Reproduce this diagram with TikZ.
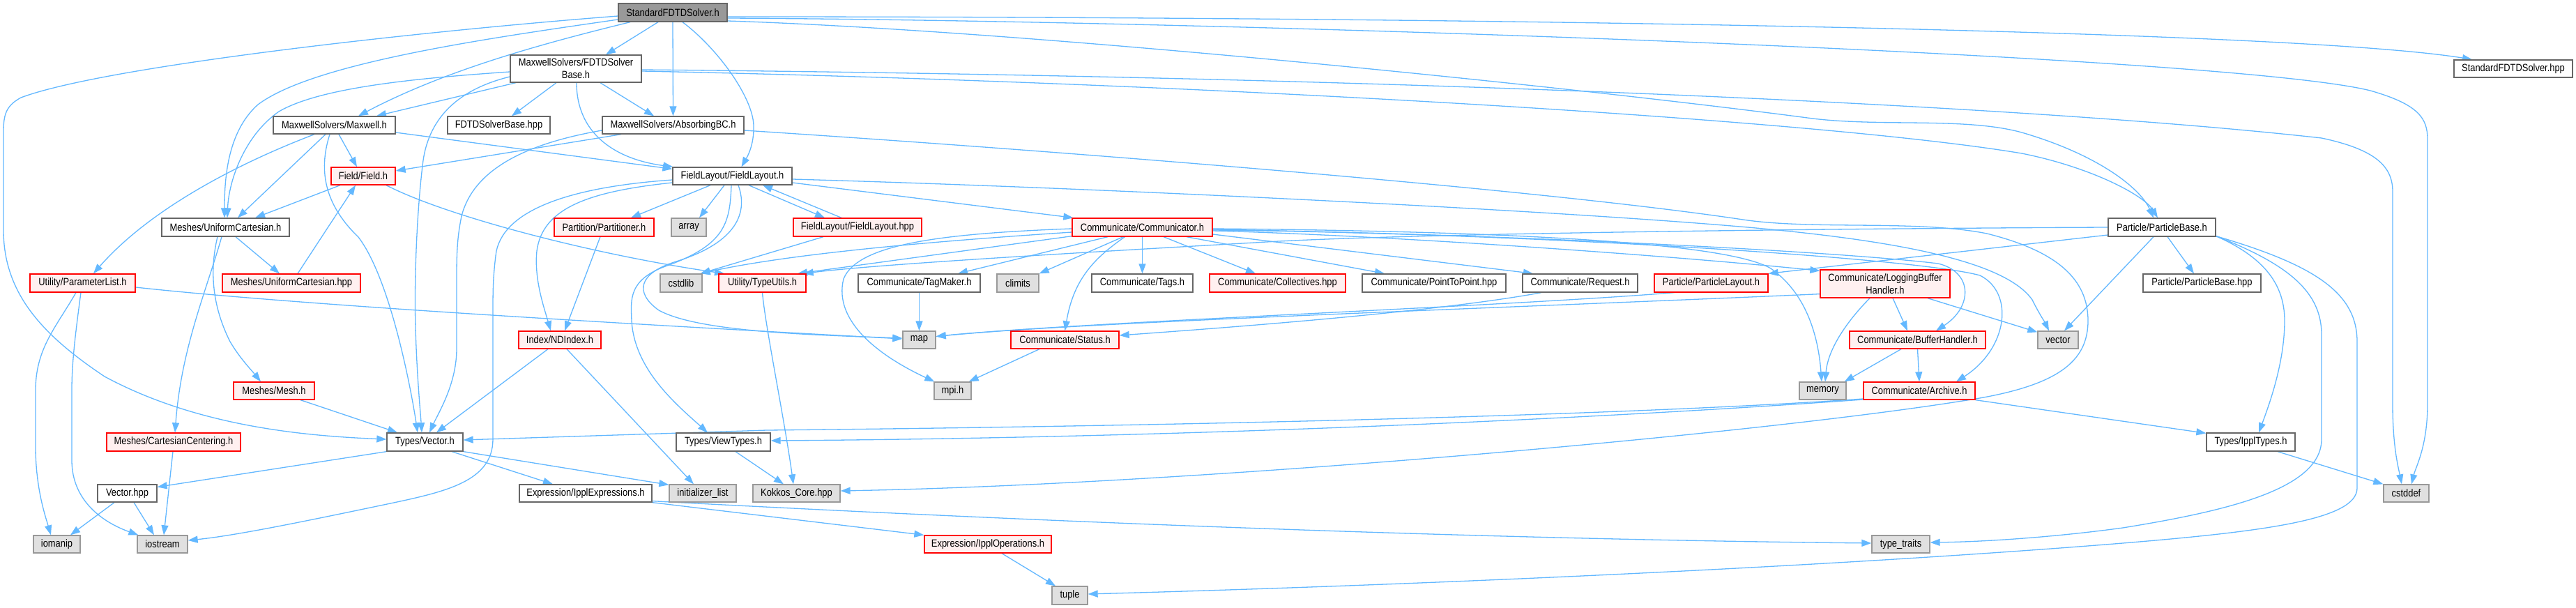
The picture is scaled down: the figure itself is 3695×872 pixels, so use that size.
\documentclass[tikz,border=0pt]{standalone}
\usepackage{fontspec}
\setmainfont{Liberation Sans}[FakeStretch=0.86]
\usetikzlibrary{arrows.meta}
\pgfdeclarelayer{bg}
\pgfsetlayers{bg,main}
\definecolor{edgec}{HTML}{63B8FF}
\definecolor{greyforty}{HTML}{666666}
\definecolor{greysixty}{HTML}{999999}
\definecolor{sysfill}{HTML}{E0E0E0}
\definecolor{redfill}{HTML}{FFF0F0}
\newcommand\gfont{\fontsize{15pt}{18pt}\selectfont}
\tikzset{
 base/.style={draw, line width=1.3pt, inner sep=0pt, font=\gfont, text=black, align=center},
 nrm/.style={base, draw=greyforty, fill=white},
 topn/.style={base, draw=greyforty, fill=greysixty},
 rednode/.style={base, draw=red, fill=redfill},
 sysn/.style={base, draw=greysixty, fill=sysfill},
 conn/.style={draw=edgec, line width=1.3pt, -{Triangle[length=14pt,width=10pt]}},
}
\begin{document}
\begin{tikzpicture}[x=1pt,y=-1pt]
\useasboundingbox (0,0) rectangle (3695,872);
% nodes
\node[topn,minimum width=156pt,minimum height=26pt] (S) at (965,18) {StandardFDTDSolver.h};
\node[nrm,minimum width=188pt,minimum height=39pt] (FSB) at (826,98.5) {MaxwellSolvers/FDTDSolver\\Base.h};
\node[nrm,minimum width=170pt,minimum height=25pt] (SHPP) at (3605,98.5) {StandardFDTDSolver.hpp};
\node[nrm,minimum width=175pt,minimum height=25pt] (MAX) at (479.5,179.5) {MaxwellSolvers/Maxwell.h};
\node[nrm,minimum width=147pt,minimum height=25pt] (FSBH) at (715.5,179.5) {FDTDSolverBase.hpp};
\node[nrm,minimum width=203pt,minimum height=25pt] (ABC) at (965.5,179.5) {MaxwellSolvers/AbsorbingBC.h};
\node[rednode,minimum width=92pt,minimum height=25pt] (FLD) at (521,252.5) {Field/Field.h};
\node[nrm,minimum width=171pt,minimum height=25pt] (FL) at (1050.5,252.5) {FieldLayout/FieldLayout.h};
\node[nrm,minimum width=183pt,minimum height=26pt] (UC) at (323.5,326) {Meshes/UniformCartesian.h};
\node[rednode,minimum width=143pt,minimum height=26pt] (PART) at (866.5,326) {Partition/Partitioner.h};
\node[sysn,minimum width=50pt,minimum height=26pt] (ARR) at (988,326) {array};
\node[rednode,minimum width=184pt,minimum height=26pt] (FLH) at (1230,326) {FieldLayout/FieldLayout.hpp};
\node[rednode,minimum width=201pt,minimum height=26pt] (COMM) at (1638.5,326) {Communicate/Communicator.h};
\node[nrm,minimum width=154pt,minimum height=26pt] (PB) at (3101,326) {Particle/ParticleBase.h};
\node[rednode,minimum width=151pt,minimum height=26pt] (PL) at (118.5,406) {Utility/ParameterList.h};
\node[rednode,minimum width=198pt,minimum height=26pt] (UCH) at (418,406) {Meshes/UniformCartesian.hpp};
\node[sysn,minimum width=60pt,minimum height=26pt] (CSTDLIB) at (977,406) {cstdlib};
\node[rednode,minimum width=125pt,minimum height=26pt] (TU) at (1093.5,406) {Utility/TypeUtils.h};
\node[nrm,minimum width=175pt,minimum height=26pt] (TAG) at (1318.5,406) {Communicate/TagMaker.h};
\node[sysn,minimum width=60pt,minimum height=26pt] (CLIM) at (1460,406) {climits};
\node[nrm,minimum width=145pt,minimum height=26pt] (TAGS) at (1638.5,406) {Communicate/Tags.h};
\node[rednode,minimum width=195pt,minimum height=26pt] (COLL) at (1832.5,406) {Communicate/Collectives.hpp};
\node[nrm,minimum width=206pt,minimum height=26pt] (P2P) at (2057,406) {Communicate/PointToPoint.hpp};
\node[nrm,minimum width=165pt,minimum height=26pt] (REQ) at (2266.5,406) {Communicate/Request.h};
\node[rednode,minimum width=163pt,minimum height=26pt] (PLAY) at (2454.5,406) {Particle/ParticleLayout.h};
\node[rednode,minimum width=186pt,minimum height=40pt] (LBH) at (2704,407) {Communicate/LoggingBuffer\\Handler.h};
\node[nrm,minimum width=169pt,minimum height=26pt] (PBH) at (3158.5,406) {Particle/ParticleBase.hpp};
\node[rednode,minimum width=118pt,minimum height=25pt] (NDI) at (803,487.5) {Index/NDIndex.h};
\node[sysn,minimum width=47pt,minimum height=25pt] (MAP) at (1318.5,487.5) {map};
\node[rednode,minimum width=155pt,minimum height=25pt] (STAT) at (1527.5,487.5) {Communicate/Status.h};
\node[rednode,minimum width=195pt,minimum height=25pt] (BH) at (2750.5,487.5) {Communicate/BufferHandler.h};
\node[sysn,minimum width=58pt,minimum height=25pt] (VEC) at (2952,487.5) {vector};
\node[rednode,minimum width=116pt,minimum height=25pt] (MESH) at (393,560.5) {Meshes/Mesh.h};
\node[sysn,minimum width=53pt,minimum height=25pt] (MPI) at (1366.5,560.5) {mpi.h};
\node[sysn,minimum width=67pt,minimum height=25pt] (MEM) at (2614.5,560.5) {memory};
\node[rednode,minimum width=160pt,minimum height=25pt] (ARCH) at (2753,560.5) {Communicate/Archive.h};
\node[rednode,minimum width=192pt,minimum height=26pt] (CC) at (249,634) {Meshes/CartesianCentering.h};
\node[nrm,minimum width=109pt,minimum height=26pt] (TV) at (609.5,634) {Types/Vector.h};
\node[nrm,minimum width=135pt,minimum height=26pt] (VT) at (1037.5,634) {Types/ViewTypes.h};
\node[nrm,minimum width=127pt,minimum height=26pt] (IT) at (3228.5,634) {Types/IpplTypes.h};
\node[nrm,minimum width=85pt,minimum height=25pt] (VHPP) at (182.5,707.5) {Vector.hpp};
\node[nrm,minimum width=190pt,minimum height=25pt] (IE) at (840,707.5) {Expression/IpplExpressions.h};
\node[sysn,minimum width=96pt,minimum height=25pt] (IL) at (1008,707.5) {initializer\_list};
\node[sysn,minimum width=125pt,minimum height=25pt] (KK) at (1142.5,707.5) {Kokkos\_Core.hpp};
\node[sysn,minimum width=65pt,minimum height=25pt] (CSTDDEF) at (3451.5,707.5) {cstddef};
\node[sysn,minimum width=67pt,minimum height=25pt] (IOM) at (81.5,780.5) {iomanip};
\node[sysn,minimum width=72pt,minimum height=25pt] (IOS) at (233,780.5) {iostream};
\node[rednode,minimum width=182pt,minimum height=25pt] (IO) at (1417,780.5) {Expression/IpplOperations.h};
\node[sysn,minimum width=83pt,minimum height=25pt] (TT) at (2726.5,780.5) {type\_traits};
\node[sysn,minimum width=51pt,minimum height=26pt] (TUP) at (1534.5,854) {tuple};
% edges
\begin{pgfonlayer}{bg}
\fill[white] (0,0) rectangle (3695,872);
% from StandardFDTDSolver.h
\draw[conn] ([xshift=-21pt]S.south) -- ([xshift=43pt]FSB.north);
\draw[conn] (S.south) -- (ABC.north);
\draw[conn] ([xshift=14pt]S.south) .. controls (1030,70) and (1080,140) .. (1081,180) .. controls (1082,210) and (1070,228) .. ([xshift=13pt]FL.north);
\draw[conn] ([xshift=-61pt]S.south) .. controls (780,62) and (640,100) .. ([xshift=34.5pt]MAX.north);
\draw[conn] ([yshift=-10pt]S.west) .. controls (700,55) and (450,90) .. (370,150) .. controls (325,190) and (322,260) .. ([xshift=-1.5pt]UC.north);
\draw[conn] ([yshift=-5pt]S.west) .. controls (600,45) and (150,95) .. (30,140) .. controls (8,152) and (5,165) .. (5,190) -- (5,330) .. controls (5,420) and (60,480) .. (150,540) .. controls (280,610) and (430,625) .. ([yshift=4pt]TV.west);
\draw[conn] ([yshift=-6pt]S.east) .. controls (2200,24) and (3300,45) .. ([xshift=-59pt]SHPP.north);
\draw[conn] ([yshift=-8pt]S.east) .. controls (1800,30) and (3200,80) .. (3400,130) .. controls (3470,150) and (3482,170) .. (3482,200) -- (3482,580) .. controls (3482,640) and (3465,670) .. ([xshift=7.5pt]CSTDDEF.north);
\draw[conn] ([yshift=-12pt]S.east) .. controls (1500,45) and (2300,130) .. (2600,170) .. controls (2700,182) and (2820,168) .. (2900,190) .. controls (3010,222) and (3070,270) .. ([xshift=-12pt]PB.north);
% from FDTDSolverBase.h
\draw[conn] ([xshift=-28pt]FSB.south) -- ([xshift=18.5pt]FSBH.north);
\draw[conn] ([xshift=35pt]FSB.south) -- ([xshift=-27.5pt]ABC.north);
\draw[conn] ([xshift=1pt]FSB.south) .. controls (827,190) and (880,228) .. ([xshift=1pt]FL.north west);
\draw[conn] ([xshift=-86pt]FSB.south) -- ([xshift=60.5pt]MAX.north);
\draw[conn] ([yshift=-4.5pt]FSB.west) .. controls (600,112) and (460,125) .. (400,160) .. controls (350,195) and (328,260) .. ([xshift=2.5pt]UC.north);
\draw[conn] ([yshift=-11.5pt]FSB.west) .. controls (650,130) and (615,175) .. (607,230) .. controls (598,300) and (594,400) .. (596,470) .. controls (598,540) and (603,590) .. ([xshift=-4.5pt]TV.north);
\draw[conn] ([yshift=-1.5pt]FSB.east) .. controls (2000,110) and (2900,150) .. (3330,198) .. controls (3410,215) and (3432,240) .. (3432,275) -- (3432,580) .. controls (3432,640) and (3440,670) .. ([xshift=-6.5pt]CSTDDEF.north);
\draw[conn] ([yshift=-3.5pt]FSB.east) .. controls (1700,118) and (2600,170) .. (2900,220) .. controls (3000,240) and (3075,280) .. ([xshift=-6pt]PB.north);
% from Maxwell.h
\draw[conn] ([xshift=-28.5pt]MAX.south) .. controls (340,235) and (215,300) .. ([xshift=15.5pt]PL.north);
\draw[conn] ([xshift=-12.5pt]MAX.south) -- ([xshift=17.5pt]UC.north);
\draw[conn] ([xshift=-6.5pt]MAX.south) .. controls (458,240) and (462,290) .. (514,340) .. controls (560,400) and (590,560) .. ([xshift=-10.5pt]TV.north);
\draw[conn] ([xshift=6.5pt]MAX.south) -- ([xshift=-9pt]FLD.north);
\draw[conn] ([yshift=-10.5pt]MAX.east) -- ([yshift=-3pt]FL.north west);
% from AbsorbingBC.h
\draw[conn] ([xshift=-74.5pt]ABC.south) -- ([yshift=7.5pt]FLD.east);
\draw[conn] ([yshift=-7.5pt]ABC.west) .. controls (760,205) and (680,240) .. (662,310) .. controls (656,340) and (655,360) .. (655,400) -- (655,500) .. controls (655,550) and (630,590) .. ([xshift=6.5pt]TV.north);
\draw[conn] ([yshift=-7.5pt]ABC.east) .. controls (1500,215) and (2200,270) .. (2500,315) .. controls (2600,330) and (2750,315) .. (2850,335) .. controls (2950,360) and (2995,400) .. (2995,460) .. controls (2995,520) and (2950,555) .. (2815,575) .. controls (2500,625) and (1700,695) .. ([yshift=3.5pt]KK.east);
% from FieldLayout.h
\draw[conn] ([xshift=-31.5pt]FL.south) -- ([xshift=38.5pt]PART.north);
\draw[conn] ([xshift=-11.5pt]FL.south) -- ([xshift=15pt]ARR.north);
\draw[conn] ([xshift=23.5pt]FL.south) -- ([xshift=-47pt]FLH.north);
\draw[conn] ([xshift=-23pt]FLH.north) -- ([xshift=43.5pt]FL.south);
\draw[conn] ([xshift=-49pt]FLH.south) -- ([xshift=-3pt]CSTDLIB.north east);
\draw[conn] ([yshift=-5.5pt]FL.west) .. controls (820,268) and (725,300) .. (712,360) .. controls (707,395) and (707,420) .. (707,450) -- (707,630) .. controls (707,690) and (640,705) .. (560,722) .. controls (450,745) and (340,768) .. ([yshift=5.5pt]IOS.east);
\draw[conn] ([yshift=-9.5pt]FL.west) .. controls (840,275) and (778,300) .. (770,360) .. controls (766,400) and (780,440) .. ([xshift=-13pt]NDI.north);
\draw[conn] ([xshift=-1.5pt]FL.south) .. controls (1047,320) and (1040,350) .. (960,380) .. controls (900,400) and (905,430) .. (906,460) .. controls (910,530) and (970,580) .. ([xshift=-22.5pt]VT.north);
\draw[conn] ([xshift=8.5pt]FL.south) .. controls (1075,310) and (1050,350) .. (970,375) .. controls (915,392) and (910,420) .. (945,445) .. controls (1000,475) and (1150,480) .. ([yshift=2.5pt]MAP.west);
\draw[conn] ([yshift=-4.5pt]FL.east) .. controls (1600,270) and (2300,305) .. (2550,330) .. controls (2750,350) and (2880,380) .. (2915,430) .. controls (2925,450) and (2933,462) .. ([xshift=-13pt]VEC.north);
\draw[conn] ([yshift=-9.5pt]FL.east) -- ([xshift=2pt]COMM.north west);
% Field.h, meshes
\draw[conn] ([xshift=-33pt]FLD.south) -- ([xshift=42.5pt]UC.north);
\draw[conn] ([xshift=33pt]FLD.south) .. controls (640,310) and (850,365) .. ([xshift=-54.5pt]TU.north);
\draw[conn] ([xshift=9pt]UCH.north) -- ([xshift=-11pt]FLD.south);
\draw[conn] ([xshift=14.5pt]UC.south) -- ([xshift=-17pt]UCH.north);
\draw[conn] ([xshift=-5.5pt]UC.south) .. controls (295,420) and (260,500) .. ([xshift=2pt]CC.north);
\draw[conn] ([xshift=-11.5pt]UC.south) .. controls (300,390) and (305,440) .. (330,490) .. controls (345,515) and (360,530) .. ([xshift=-19pt]MESH.north);
% ParameterList.h
\draw[conn] ([yshift=-6pt]PL.east) .. controls (450,440) and (1000,470) .. ([yshift=1.5pt]MAP.west);
\draw[conn] ([xshift=-9.5pt]PL.south) .. controls (80,470) and (51,500) .. (51,560) -- (51,640) .. controls (51,700) and (65,740) .. ([xshift=-8.5pt]IOM.north);
\draw[conn] ([xshift=-2.5pt]PL.south) .. controls (108,480) and (103,520) .. (103,560) -- (103,660) .. controls (103,720) and (150,750) .. ([xshift=2pt]IOS.north west);
% lower left
\draw[conn] ([xshift=38pt]MESH.south) -- ([xshift=-39.5pt]TV.north);
\draw[conn] ([xshift=-1pt]CC.south) -- ([xshift=2pt]IOS.north);
\draw[conn] (TV.south west) -- ([yshift=9pt]VHPP.east);
\draw[conn] ([xshift=38.5pt]TV.south) -- ([xshift=-47pt]IE.north);
\draw[conn] (TV.south east) -- ([yshift=-1pt]IL.north west);
\draw[conn] ([xshift=-17pt]NDI.south) -- ([xshift=16.5pt]TV.north);
\draw[conn] ([xshift=10pt]NDI.south) -- ([xshift=-13pt]IL.north);
\draw[conn] ([xshift=-5.5pt]PART.south) -- ([xshift=7pt]NDI.north);
\draw[conn] ([xshift=17.5pt]VT.south) -- ([xshift=-18.5pt]KK.north);
\draw[conn] (TU.south) .. controls (1098,470) and (1125,600) .. ([xshift=-4.5pt]KK.north);
\draw[conn] ([xshift=-18.5pt]VHPP.south) -- ([xshift=19.5pt]IOM.north);
\draw[conn] ([xshift=9.5pt]VHPP.south) -- ([xshift=-12pt]IOS.north);
\draw[conn] (IE.south east) -- (IO.north west);
\draw[conn] ([yshift=2pt]IE.south east) .. controls (1300,738) and (2000,772) .. ([yshift=1.5pt]TT.west);
\draw[conn] ([xshift=20pt]IO.south) -- ([xshift=-20.5pt]TUP.north);
% from Communicator.h
\draw[conn] ([xshift=-49.5pt]COMM.south) -- ([xshift=55.5pt]TAG.north);
\draw[conn] ([xshift=-27.5pt]COMM.south) -- (CLIM.north east);
\draw[conn] (COMM.south) -- (TAGS.north);
\draw[conn] ([xshift=30.5pt]COMM.south) -- ([xshift=-31.5pt]COLL.north);
\draw[conn] ([xshift=-25pt]COMM.south) .. controls (1570,370) and (1540,400) .. (STAT.north);
\draw[conn] ([yshift=-2pt]COMM.west) .. controls (1350,335) and (1230,350) .. (1210,400) .. controls (1195,460) and (1260,510) .. ([xshift=1pt]MPI.north west);
\draw[conn] ([yshift=-7pt]COMM.west) .. controls (1400,342) and (1150,360) .. ([xshift=-3pt]CSTDLIB.north east);
\draw[conn] ([yshift=1pt]COMM.south west) -- ([xshift=50.5pt]TU.north);
\draw[conn] ([xshift=63.5pt]COMM.south) -- ([xshift=-71pt]P2P.north);
\draw[conn] ([yshift=-10pt]COMM.east) -- ([xshift=-67.5pt]REQ.north);
\draw[conn] ([yshift=-5pt]COMM.east) .. controls (2000,338) and (2400,367) .. ([yshift=-2pt]LBH.north west);
\draw[conn] ([yshift=-2pt]COMM.east) .. controls (2200,332) and (2480,350) .. (2540,385) .. controls (2590,420) and (2608,480) .. ([xshift=-1.5pt]MEM.north);
\draw[conn] ([yshift=-3pt]COMM.east) .. controls (2200,337) and (2650,362) .. (2780,378) .. controls (2830,390) and (2830,440) .. ([xshift=26.5pt]BH.north);
\draw[conn] ([yshift=-4pt]COMM.east) .. controls (2200,335) and (2750,370) .. (2840,395) .. controls (2890,420) and (2880,500) .. ([xshift=53pt]ARCH.north);
% from ParticleBase.h
\draw[conn] (PB.west) .. controls (2600,328) and (2000,335) .. (1800,348) .. controls (1500,365) and (1250,380) .. ([xshift=-4pt]TU.north east);
\draw[conn] ([yshift=-11pt]PB.west) -- (PLAY.north east);
\draw[conn] ([xshift=8pt]PB.south) -- ([xshift=-11.5pt]PBH.north);
\draw[conn] ([xshift=-12pt]PB.south) -- ([xshift=9pt]VEC.north);
\draw[conn] ([yshift=1pt]PB.south east) .. controls (3250,370) and (3277,410) .. (3277,460) .. controls (3277,520) and (3255,580) .. ([xshift=11.5pt]IT.north);
\draw[conn] ([yshift=1pt]PB.south east) .. controls (3285,380) and (3330,420) .. (3330,480) -- (3330,630) .. controls (3330,700) and (3200,732) .. (3045,757) .. controls (2950,770) and (2850,777) .. ([yshift=2.5pt]TT.east);
\draw[conn] ([yshift=1pt]PB.south east) .. controls (3320,380) and (3381,420) .. (3381,490) -- (3381,700) .. controls (3381,745) and (3250,762) .. (3045,779) .. controls (2600,815) and (2000,840) .. ([yshift=2pt]TUP.east);
\draw[conn] ([xshift=38.5pt]IT.south) -- (CSTDDEF.north west);
% communicate internals
\draw[conn] ([xshift=-22pt]LBH.south) .. controls (2650,460) and (2622,500) .. ([xshift=3.5pt]MEM.north);
\draw[conn] ([xshift=11pt]LBH.south) -- ([xshift=-14.5pt]BH.north);
\draw[conn] ([xshift=61pt]LBH.south) -- ([yshift=-2pt]VEC.north west);
\draw[conn] ([yshift=6pt]LBH.south west) .. controls (2200,440) and (1550,462) .. ([yshift=5pt]MAP.east);
\draw[conn] ([xshift=-53pt]PLAY.south) .. controls (2150,440) and (1550,462) .. ([yshift=5pt]MAP.east);
\draw[conn] ([xshift=-55.5pt]REQ.south) .. controls (2100,440) and (1900,460) .. ([yshift=6.5pt]STAT.east);
\draw[conn] (TAG.south) -- (MAP.north);
\draw[conn] ([xshift=-36.5pt]STAT.south) -- ([xshift=-4pt]MPI.north east);
\draw[conn] ([xshift=-23.5pt]BH.south) -- ([xshift=-3pt]MEM.north east);
\draw[conn] (BH.south) -- (ARCH.north);
\draw[conn] ([yshift=-11.5pt]ARCH.west) .. controls (2300,598) and (1600,612) .. (1100,617) -- ([yshift=3pt]TV.east);
\draw[conn] ([yshift=-12.5pt]ARCH.west) .. controls (2300,600) and (1700,628) .. ([yshift=2pt]VT.east);
\draw[conn] (ARCH.south east) -- ([yshift=-1pt]IT.north west);
\end{pgfonlayer}
\end{tikzpicture}
\end{document}
